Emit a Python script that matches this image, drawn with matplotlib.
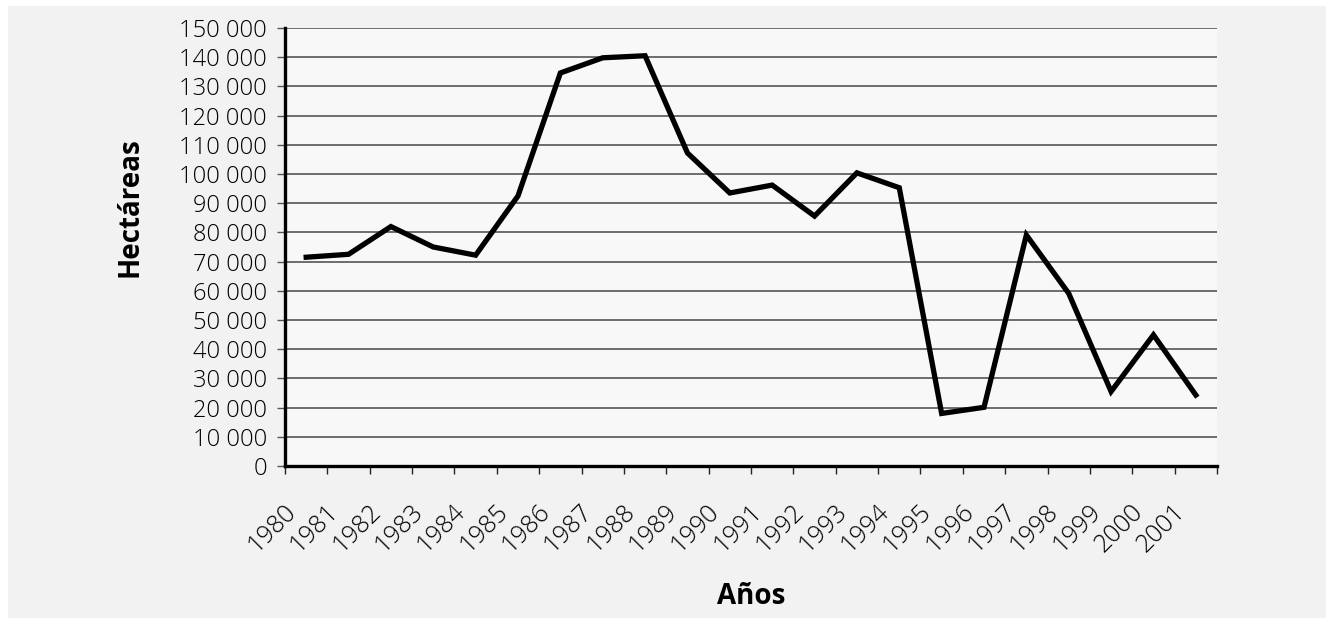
import numpy as np
import matplotlib.pyplot as plt
import matplotlib.transforms as mtransforms
from matplotlib.ticker import FuncFormatter

plt.rcParams['font.family'] = ['Open Sans', 'DejaVu Sans']

# Superficie anual (hectáreas)
years = [1980, 1981, 1982, 1983, 1984, 1985, 1986, 1987, 1988, 1989, 1990,
         1991, 1992, 1993, 1994, 1995, 1996, 1997, 1998, 1999, 2000, 2001]
hectares = [71500, 72500, 82000, 75000, 72200, 92500, 134600, 139800, 140500,
            107200, 93500, 96200, 85600, 100400, 95300, 18000, 20100, 79100,
            59100, 25500, 44900, 24300]
y_ticks = np.arange(0, 150001, 10000)

W, H = 1326, 618
fig = plt.figure(figsize=(W / 100, H / 100), dpi=100)
fig.patch.set_facecolor('white')
# fondo gris del gráfico
fig.patches.append(plt.Rectangle((8 / W, 0), 1 - 8 / W, 1 - 6 / H,
                                 transform=fig.transFigure,
                                 facecolor='#f2f2f2', edgecolor='none', zorder=-10))

ax = fig.add_axes([285 / W, 1 - 466 / H, (1217 - 285) / W, (466 - 28) / H])
ax.set_facecolor('#f8f8f8')

x = np.arange(len(years))
ax.plot(x, hectares, color='black', lw=3.8, solid_joinstyle='miter', zorder=3)

ax.set_xlim(-0.5, len(years) - 0.5)
ax.set_ylim(0, 150000)
ax.set_yticks(y_ticks)
ax.yaxis.set_major_formatter(FuncFormatter(lambda v, p: f'{int(v):,}'.replace(',', ' ')))
ax.grid(axis='y', color='#555555', lw=1.2, zorder=1)
ax.set_axisbelow(True)

for s in ['top', 'right']:
    ax.spines[s].set_visible(False)
for s in ['left', 'bottom']:
    ax.spines[s].set_linewidth(2.4)
    ax.spines[s].set_zorder(4)

# marcas en los límites de cada categoría, etiquetas en el centro
ax.set_xticks(np.arange(len(years) + 1) - 0.5)
ax.set_xticklabels([])
ax.set_xticks(x, minor=True)
ax.set_xticklabels([str(y) for y in years], minor=True, rotation=45,
                   ha='right', va='center', rotation_mode='anchor')
ax.tick_params(axis='x', which='major', length=6, width=1, color='#222222')
ax.tick_params(axis='x', which='minor', length=0, pad=30, labelsize=18,
               labelcolor='black')
ax.tick_params(axis='y', length=6, width=1, color='#555555', pad=7,
               labelsize=17, labelcolor='black')
for lbl in ax.get_yticklabels() + ax.get_xticklabels(minor=True):
    lbl.set_fontweight('light')

offset = mtransforms.ScaledTranslation(-14 / 100, 0, fig.dpi_scale_trans)
for lbl in ax.get_xticklabels(minor=True):
    lbl.set_transform(lbl.get_transform() + offset)

fig.text(130 / W, 1 - 207 / H, 'Hectáreas', rotation=90, ha='center', va='center',
         fontsize=20, fontweight='bold', color='black')
fig.text(751 / W, 1 - 597 / H, 'Años', ha='center', va='center',
         fontsize=20, fontweight='bold', color='black')

fig.savefig('out.png', dpi=100, facecolor=fig.get_facecolor())
